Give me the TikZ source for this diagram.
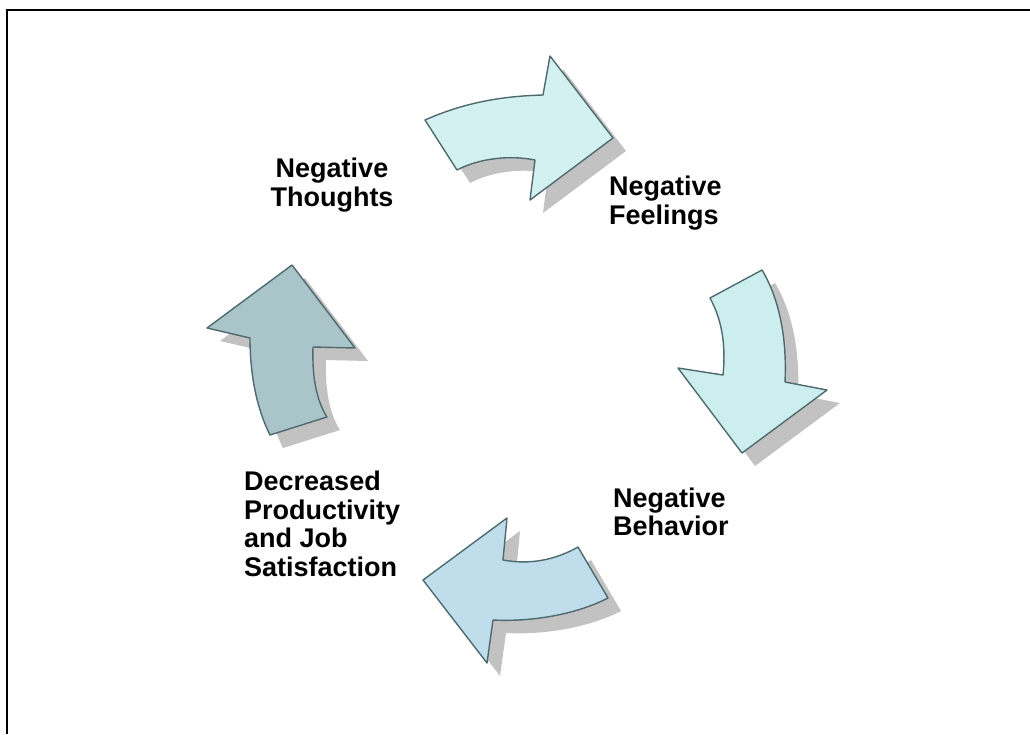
\documentclass[tikz,border=0pt]{standalone}
\usepackage{fontspec}
\setmainfont{Liberation Sans}
\usetikzlibrary{positioning}

\definecolor{edgeteal}{HTML}{4F6A6E}
\definecolor{shadowgray}{HTML}{C2C2C2}
\definecolor{paleaqua}{HTML}{D3F1F1}
\definecolor{paleaquab}{HTML}{CDEEEF}
\definecolor{slateblue}{HTML}{A9C5CA}
\definecolor{skyblue}{HTML}{BFDDEB}

\begin{document}
\begin{tikzpicture}
% Style
[
    x=1pt, y=-1pt,
    label/.style={inner sep=0pt, font=\fontsize{27}{28.5}\selectfont\bfseries},
    bentarrow/.style={draw=edgeteal, line width=1.4pt, line join=round, fill=#1},
    arrowshadow/.style={fill=shadowgray, shift={(13,13)}}
]
\useasboundingbox (0,0) rectangle (1030,734);

%=================================== Start ===================================
{
    % frame
    \draw[line width=2pt] (6.5,734) -- (6.5,10) -- (1030,10);

    % shadows first
    \foreach \a in {
        {(425,120) .. controls (470,100) and (510,96) .. (543,95) -- (550,56) -- (613,138) -- (530,200) -- (535,160) .. controls (510,155) and (480,158) .. (457,170) -- cycle},
        {(710,298) -- (762,270) .. controls (780,300) and (787,340) .. (785,382) -- (827,390) -- (742,453) -- (678,368) -- (723,375) .. controls (726,345) and (722,320) .. (710,298) -- cycle},
        {(292,265) -- (355,348) -- (313,347) .. controls (312,375) and (316,400) .. (327,417) -- (270,435) .. controls (255,405) and (250,370) .. (250,338) -- (207,328) -- cycle},
        {(423,580) -- (507,518) -- (503,560) .. controls (530,565) and (555,560) .. (578,547) -- (608,598) .. controls (575,615) and (530,622) .. (493,620) -- (487,663) -- cycle}
    } {
        \path[arrowshadow] \a;
    }

    % the four bent arrows
    \path[bentarrow=paleaqua] (425,120) .. controls (470,100) and (510,96) .. (543,95) -- (550,56) -- (613,138) -- (530,200) -- (535,160) .. controls (510,155) and (480,158) .. (457,170) -- cycle;
    \path[bentarrow=paleaquab] (710,298) -- (762,270) .. controls (780,300) and (787,340) .. (785,382) -- (827,390) -- (742,453) -- (678,368) -- (723,375) .. controls (726,345) and (722,320) .. (710,298) -- cycle;
    \path[bentarrow=skyblue] (423,580) -- (507,518) -- (503,560) .. controls (530,565) and (555,560) .. (578,547) -- (608,598) .. controls (575,615) and (530,622) .. (493,620) -- (487,663) -- cycle;
    \path[bentarrow=slateblue] (292,265) -- (355,348) -- (313,347) .. controls (312,375) and (316,400) .. (327,417) -- (270,435) .. controls (255,405) and (250,370) .. (250,338) -- (207,328) -- cycle;

    % labels
    \node[label, align=center] (thoughts) at (332,185) {Negative\\Thoughts};
    \node[label, align=left, anchor=west] (feelings) at (609,203) {Negative\\Feelings};
    \node[label, align=left, anchor=west] (behavior) at (613,512) {Negative\\Behavior};
    \node[label, align=left, anchor=west] (decreased) at (244,524) {Decreased\\Productivity\\and Job\\Satisfaction};
}
%==================================== END ====================================

\end{tikzpicture}
\end{document}
